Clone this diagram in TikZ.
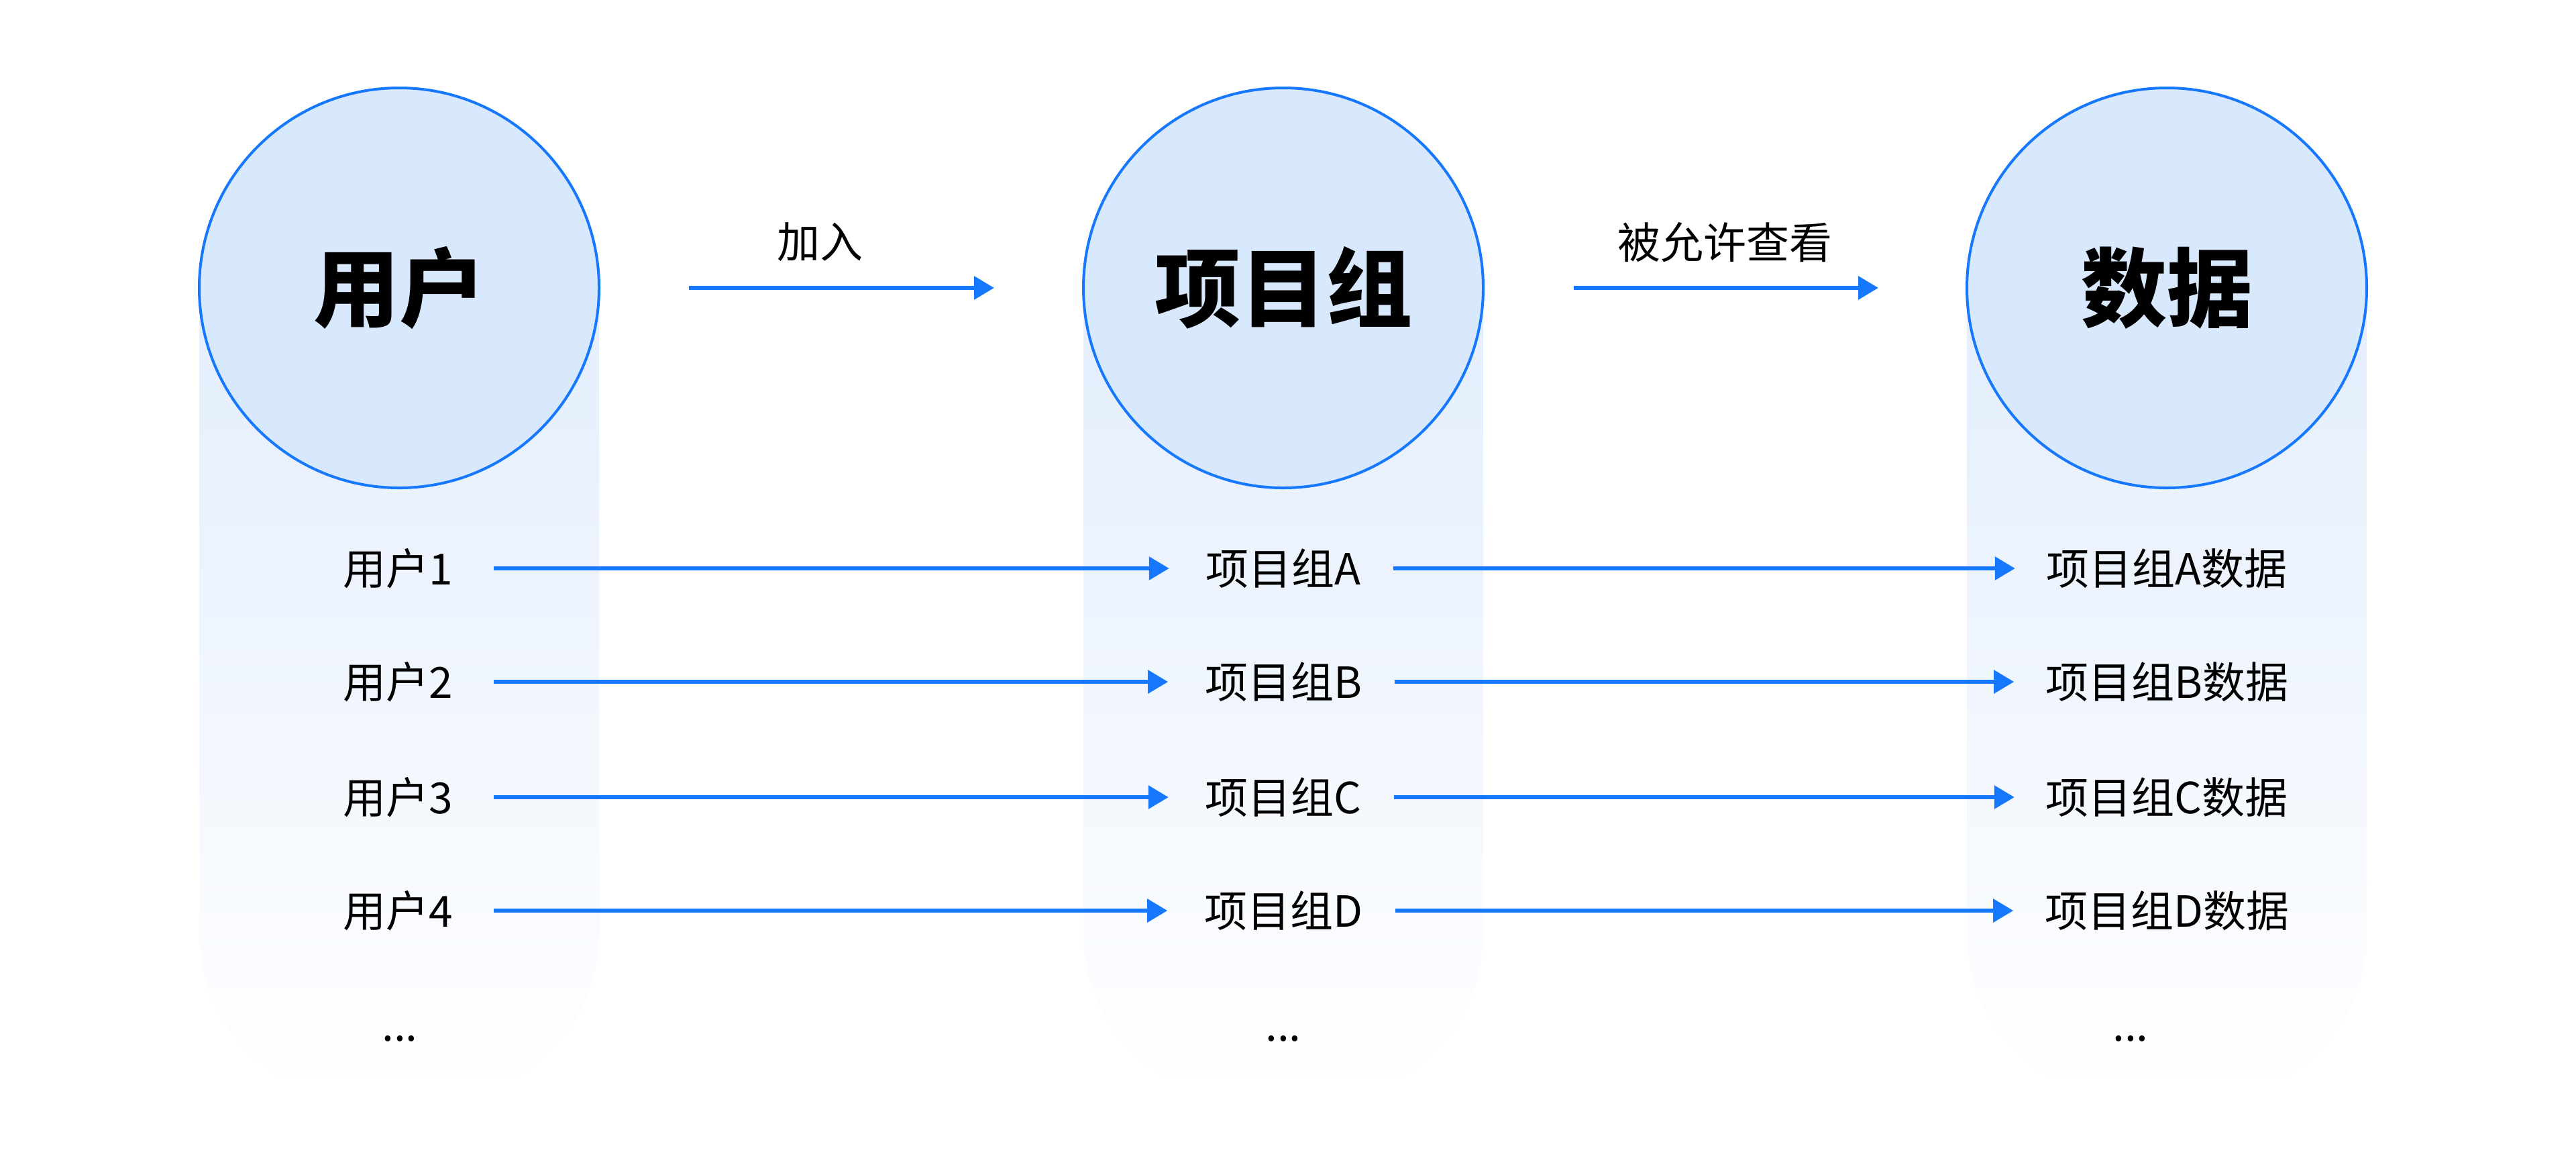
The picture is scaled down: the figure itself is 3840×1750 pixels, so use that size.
\documentclass[tikz,border=0pt]{standalone}
\usepackage{fontspec}
\setmainfont{Noto Sans CJK SC}
\usetikzlibrary{arrows.meta}

\definecolor{lineblue}{HTML}{1677FF}
\definecolor{circfill}{HTML}{D9E9FD}
\definecolor{coltop}{HTML}{DCE9FC}

\tikzset{
    bigcirc/.style={circle, draw=lineblue, line width=1pt, fill=circfill,
        minimum size=149pt, inner sep=0pt, font=\fontsize{32}{38}\selectfont\bfseries},
    item/.style={inner sep=0pt, font=\fontsize{16}{19}\selectfont},
    arr/.style={draw=lineblue, line width=1.5pt, -{Triangle[length=7.5pt,width=8.5pt]}}
}

\begin{document}
\begin{tikzpicture}[x=0.25pt, y=-0.25pt]
        \useasboundingbox (0,0) rectangle (3840,1750);

        % Колонки с градиентом
        \foreach \cx in {595,1913,3230}
        {
            \begin{scope}
                \clip (\cx-298,429) rectangle (\cx+298,1750);
                \path[top color=coltop, bottom color=white, rounded corners=62pt]
                    (\cx-298,130) rectangle (\cx+298,1640);
            \end{scope}
        }

        % Круги
        \node[bigcirc] (user) at (595,429) {用户};
        \node[bigcirc] (group) at (1913,429) {项目组};
        \node[bigcirc] (data) at (3230,429) {数据};

        % Верхние стрелки
        \draw[arr, shorten <=33pt, shorten >=32.75pt] (user) -- (group)
            node[midway, item, yshift=17pt, xshift=-8pt] (join) {加入};
        \draw[arr, shorten <=33.25pt, shorten >=32.5pt] (group) -- (data)
            node[midway, item, yshift=17pt] (view) {被允许查看};

        % Строки
        \foreach \i/\y/\g in {1/847/A, 2/1016/B, 3/1188/C, 4/1357/D}
        {
            \node[item] (u\i) at (593,\y) {用户\i};
            \node[item] (g\i) at (1913,\y) {项目组\g};
            \node[item] (d\i) at (3230,\y) {项目组{\g}数据};
            \draw[arr, shorten <=15pt, shorten >=13.5pt] (u\i) -- (g\i);
            \draw[arr, shorten <=12pt, shorten >=11.5pt] (g\i) -- (d\i);
        }

        % Многоточия
        \node[item] (udots) at (596,1548) {...};
        \node[item] (gdots) at (1913,1548) {...};
        \node[item] (ddots) at (3176,1548) {...};
    \end{tikzpicture}
\end{document}
